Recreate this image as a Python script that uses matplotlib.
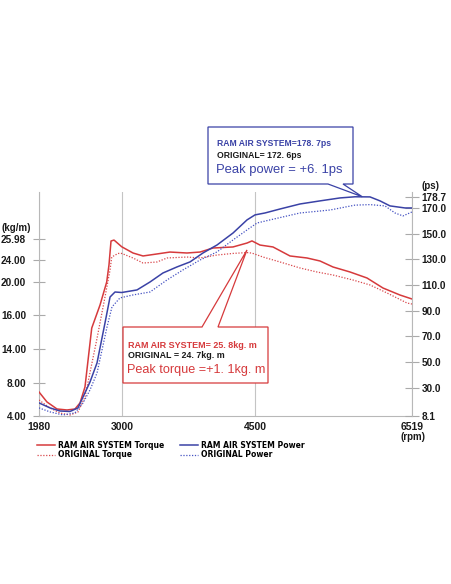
import numpy as np
import matplotlib
matplotlib.use("Agg")
import matplotlib.pyplot as plt
from matplotlib.patches import Polygon

# ---------------- data ----------------
ram_torque_rpm = [1980, 2078, 2201, 2324, 2422, 2484, 2545, 2628, 2730, 2812, 2840, 2865, 2902,
                  2996, 3124, 3237, 3395, 3541, 3733, 3880, 4026, 4252, 4410, 4466, 4564, 4731,
                  4950, 5169, 5336, 5503, 5722, 5940, 6146, 6365, 6519]
ram_torque = [6.91, 5.70, 4.85, 4.73, 4.85, 5.58, 7.52, 15.23, 17.21, 20.0, 23.09, 25.79, 25.88,
              25.25, 24.66, 24.38, 24.57, 24.75, 24.66, 24.75, 25.13, 25.23, 25.60, 25.80, 25.41,
              25.23, 24.38, 24.19, 23.82, 22.73, 21.82, 20.73, 19.27, 18.42, 17.94]

orig_torque_rpm = [1980, 2115, 2238, 2361, 2459, 2545, 2689, 2791, 2853, 2874, 2951, 2996, 3124,
                   3237, 3395, 3508, 3733, 3880, 4072, 4252, 4410, 4466, 4603, 4822, 5079, 5297,
                   5503, 5760, 5979, 6198, 6455, 6519]
orig_torque = [5.94, 4.97, 4.36, 4.12, 4.48, 6.30, 14.53, 18.18, 22.18, 24.28, 24.62, 24.62, 24.19,
               23.45, 23.64, 24.19, 24.28, 24.19, 24.47, 24.62, 24.70, 24.65, 24.28, 23.64, 22.55,
               21.82, 21.27, 20.36, 19.64, 18.67, 17.45, 17.33]

ram_power_rpm = [1980, 2115, 2238, 2361, 2459, 2521, 2607, 2693, 2791, 2853, 2914, 2996, 3169,
                 3316, 3462, 3620, 3767, 3914, 4072, 4252, 4410, 4500, 4629, 4822, 5079, 5336,
                 5593, 5786, 5979, 6108, 6236, 6429, 6519]
ram_power = [18.3, 14.4, 12.0, 11.6, 14.4, 22.9, 34.6, 49.4, 80.5, 100.7, 104.6, 104.2, 106.2,
             112.4, 119.4, 124.1, 128.0, 135.0, 141.2, 150.5, 160.7, 164.6, 166.1, 169.2, 173.1,
             175.5, 177.8, 178.7, 178.6, 175.5, 171.6, 170.0, 170.0]

orig_power_rpm = [1980, 2115, 2275, 2422, 2521, 2607, 2693, 2816, 2877, 2975, 3124, 3316, 3508,
                  3688, 3880, 4072, 4252, 4410, 4526, 4693, 5079, 5465, 5786, 5979, 6172, 6300,
                  6403, 6519]
orig_power = [14.4, 11.3, 8.9, 10.5, 18.3, 28.4, 41.6, 77.4, 93.0, 100.0, 102.3, 104.6, 114.0,
              121.8, 129.5, 135.8, 145.1, 152.9, 158.3, 160.7, 166.1, 168.4, 172.2, 172.6, 171.6,
              166.1, 163.8, 166.9]

x_ticks = [1980, 3000, 4500, 6519]
x_labels = ["1980", "3000", "4500", "6519"]
torque_ticks = [4.00, 8.00, 14.00, 16.00, 20.00, 24.00, 25.98]
torque_labels = ["4.00", "8.00", "14.00", "16.00", "20.00", "24.00", "25.98"]
power_ticks = [8.1, 30.0, 50.0, 70.0, 90.0, 110.0, 130.0, 150.0, 170.0, 178.7]
power_labels = ["8.1", "30.0", "50.0", "70.0", "90.0", "110.0", "130.0", "150.0", "170.0", "178.7"]

series_labels = ["RAM AIR SYSTEM Torque", "ORIGINAL Torque",
                 "RAM AIR SYSTEM Power", "ORIGINAL Power"]

# ---------------- layout (hand-drawn, uneven axis spacing of the original) ----------------
W, H = 452, 584
X_POS = [39, 122, 255, 412]                  # pixel columns of the x ticks
TQ_H = [0, 33, 67, 101, 134, 156, 177]       # pixel heights of torque ticks above the bottom
AX_LEFT, AX_RIGHT, AX_BOTTOM, AX_TOP = 39, 412, 416, 192
PX_PER_PS = 1.285

xk = np.array([0] + x_ticks + [10000], float)
xp = np.array([-122] + X_POS + [683], float)
tk = np.array([-100] + torque_ticks + [100], float)
tp = np.array([-858] + TQ_H + [962], float)

def fx(v):
    return np.interp(v, xk, xp)

def fx_inv(p):
    return np.interp(p, xp, xk)

def ft(v):
    return np.interp(v, tk, tp)

def ft_inv(p):
    return np.interp(p, tp, tk)

plt.rcParams['font.family'] = ['Liberation Sans', 'DejaVu Sans']
plt.rcParams['font.weight'] = 'bold'

RED = '#d63a3c'
RED_D = '#d9484c'
BLUE = '#3a42a6'
BLUE_D = '#4452c2'
GRID = '#c4c4c4'
TXT = '#1a1a1a'

fig = plt.figure(figsize=(W / 100, H / 100), dpi=100)
fig.patch.set_facecolor('white')
ax = fig.add_axes([AX_LEFT / W, 1 - AX_BOTTOM / H, (AX_RIGHT - AX_LEFT) / W, (AX_BOTTOM - AX_TOP) / H])
ax.set_xscale('function', functions=(fx, fx_inv))
ax.set_yscale('function', functions=(ft, ft_inv))
ax2 = ax.twinx()

ax.set_xlim(x_ticks[0], x_ticks[-1])
ax.set_ylim(4.0, ft_inv(AX_BOTTOM - AX_TOP))
ax2.set_ylim(8.1, 8.1 + (AX_BOTTOM - AX_TOP) / PX_PER_PS)

dots = (0, (1, 1.3))
l1, = ax.plot(ram_torque_rpm, ram_torque, color=RED, lw=1.1, zorder=3)
l2, = ax.plot(orig_torque_rpm, orig_torque, color=RED_D, lw=0.9, linestyle=dots, zorder=3)
l3, = ax2.plot(ram_power_rpm, ram_power, color=BLUE, lw=1.1, zorder=3)
l4, = ax2.plot(orig_power_rpm, orig_power, color=BLUE_D, lw=0.9, linestyle=dots, zorder=3)

# grid and spines
ax.set_xticks(x_ticks, x_labels)
ax.grid(axis='x', color=GRID, lw=0.8)
ax.set_axisbelow(True)
ax.tick_params(axis='x', length=0, pad=4.0, labelsize=7.5, labelcolor=TXT)
ax.set_yticks(torque_ticks, torque_labels)
ax.minorticks_off()
ax.tick_params(axis='y', direction='inout', length=8.6, width=0.8, color='#aaaaaa',
               pad=5, labelsize=7.2, labelcolor=TXT)
ax2.set_yticks(power_ticks, power_labels)
ax2.minorticks_off()
ax2.tick_params(axis='y', direction='inout', length=9.4, width=0.8, color='#aaaaaa',
                pad=2.0, labelsize=7.2, labelcolor=TXT)
for a in (ax, ax2):
    a.spines['top'].set_visible(False)
    a.patch.set_alpha(0)
    for s in ('left', 'right', 'bottom'):
        a.spines[s].set_color('#b8b8b8')
        a.spines[s].set_linewidth(0.8)
ax.spines['right'].set_visible(False)
ax2.spines['left'].set_visible(False)
ax2.spines['bottom'].set_visible(False)

fig.text(1 / W, 1 - 228 / H, '(kg/m)', ha='left', va='center', fontsize=7, color=TXT)
fig.text(422 / W, 1 - 186 / H, '(ps)', ha='left', va='center', fontsize=7, color=TXT)
fig.text(413 / W, 1 - 437 / H, '(rpm)', ha='center', va='center', fontsize=7.0, color=TXT)

# legend
fig.legend([l1, l2, l3, l4], series_labels, loc='upper left',
           bbox_to_anchor=(37 / W, 1 - 441 / H), ncol=2, frameon=False,
           prop={'family': 'DejaVu Sans', 'weight': 'bold', 'size': 5.5},
           handlelength=2.3, handletextpad=0.45, columnspacing=2.1,
           labelspacing=0.05, borderpad=0, borderaxespad=0)

# ---------------- callout boxes ----------------
ov = fig.add_axes([0, 0, 1, 1], zorder=5)
ov.set_xlim(0, W)
ov.set_ylim(H, 0)
ov.axis('off')
ov.patch.set_alpha(0)

def to_px(a, x, y):
    d = a.transData.transform((x, y))
    return d[0], H - d[1]

# blue box (peak power)
bt = to_px(ax2, 5880, max(ram_power))
bx0, by0, bx1, by1 = 208, 127, 353, 184
ov.add_patch(Polygon([(bx0, by0), (bx1, by0), (bx1, by1), (343, by1), bt, (328, by1), (bx0, by1)],
                     closed=True, facecolor='white', edgecolor=BLUE, lw=0.9))
ov.text(217, 143, 'RAM AIR SYSTEM=178. 7ps', color=BLUE, fontsize=6.2, va='center', ha='left')
ov.text(217, 155, 'ORIGINAL= 172. 6ps', color=TXT, fontsize=6.2, va='center', ha='left')
ov.text(216, 170.5, 'Peak power = +6. 1ps', color=BLUE, fontsize=9.4, fontweight='normal',
        va='center', ha='left')

# red box (peak torque)
rt = to_px(ax, 4410, 24.95)
rx0, ry0, rx1, ry1 = 123, 327, 268, 383
ov.add_patch(Polygon([(rx0, ry0), (202, ry0), rt, (218, ry0), (rx1, ry0), (rx1, ry1), (rx0, ry1)],
                     closed=True, facecolor='white', edgecolor=RED, lw=0.9))
ov.text(128, 345, 'RAM AIR SYSTEM= 25. 8kg. m', color=RED, fontsize=6.5, va='center', ha='left')
ov.text(128, 356, 'ORIGINAL = 24. 7kg. m', color=TXT, fontsize=6.4, va='center', ha='left')
ov.text(127, 370.5, 'Peak torque =+1. 1kg. m', color=RED, fontsize=9.1, fontweight='normal',
        va='center', ha='left')

fig.savefig('out.png', dpi=100)
